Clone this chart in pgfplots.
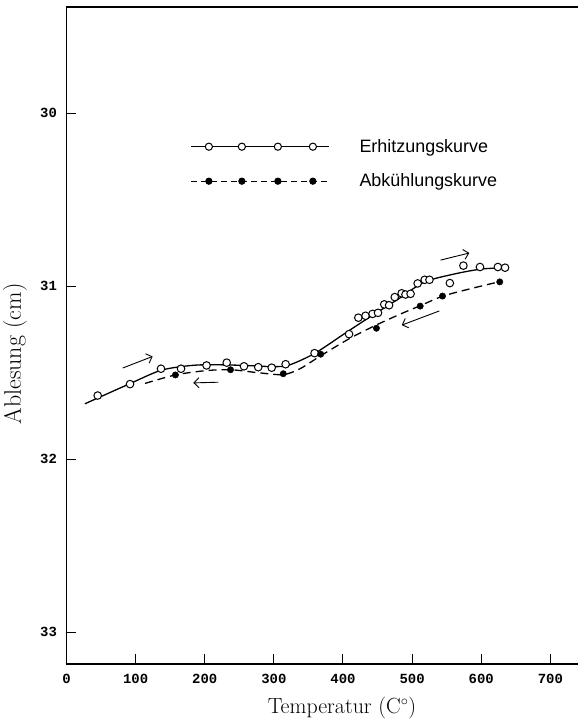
\documentclass[border=0pt]{standalone}
\usepackage{fontspec}
\usepackage{pgfplots}
\usepackage{pgfplotstable}
\pgfplotsset{compat=1.18}
\usetikzlibrary{arrows.meta}
\newfontfamily\tickfont{Liberation Mono}
\newfontfamily\legfont{Liberation Sans}

% Erhitzung: gemessene Punkte
\pgfplotstableread{
x y
45.1 31.633
91.9 31.567
136.7 31.478
165.7 31.478
202.6 31.459
231.8 31.443
256.8 31.464
277.4 31.469
296.9 31.472
317.0 31.452
358.9 31.388
408.8 31.278
422.2 31.183
432.6 31.172
442.8 31.161
450.7 31.155
459.7 31.106
466.7 31.111
474.9 31.064
484.9 31.042
490.4 31.049
497.8 31.045
508.0 30.985
518.2 30.964
525.1 30.964
554.6 30.983
574.2 30.882
598.2 30.890
624.1 30.890
634.5 30.894
}\heatpts

% Erhitzung: gezeichnete Kurve
\pgfplotstableread{
x y
26.5 31.681
91.9 31.564
135.3 31.489
171.5 31.463
201.9 31.455
251.1 31.458
301.7 31.466
323.4 31.455
359.6 31.388
403.0 31.273
436.2 31.186
479.7 31.076
517.3 30.978
559.3 30.932
598.3 30.903
631.6 30.894
}\heatcurve

% Abkuehlung: gemessene Punkte
\pgfplotstableread{
x y
157.6 31.514
237.3 31.484
313.6 31.507
367.8 31.394
448.4 31.244
511.7 31.116
544.0 31.058
626.8 30.976
}\coolpts

% Abkuehlung: gezeichnete Kurve
\pgfplotstableread{
x y
113.6 31.563
157.6 31.514
201.9 31.489
238.0 31.484
277.1 31.501
313.3 31.512
337.9 31.478
367.8 31.403
410.2 31.302
447.8 31.226
482.5 31.163
511.5 31.114
544.1 31.059
583.9 31.016
626.5 30.975
}\coolcurve

\pgfplotsset{
  curve legend/.style={legend image code/.code={
    \draw[##1,mark=none] (0bp,0bp) -- (138bp,0bp);
    \draw[##1,only marks] plot coordinates {(18bp,0bp) (51bp,0bp) (87bp,0bp) (122bp,0bp)};
  }},
}

\begin{document}
\begin{tikzpicture}
\begin{axis}[
  at={(0,0)}, anchor=south west,
  scale only axis,
  width=511.5bp, height=657bp,
  xmin=0, xmax=740,
  ymin=29.387, ymax=33.185,
  y dir=reverse,
  axis x line=box, axis y line=left,
  axis line style={-, line width=1.4bp},
  xtick={0,100,...,700},
  ytick={30,31,32,33},
  xtick pos=bottom,
  tick align=inside,
  major tick length=10bp,
  tick style={black, line width=1bp},
  /pgf/number format/assume math mode=true,
  tick label style={font=\fontsize{14}{14}\selectfont\tickfont\bfseries},
  xticklabel style={yshift=-7bp},
  yticklabel style={xshift=-6bp},
  xlabel={Temperatur (C$^\circ$)},
  ylabel={Ablesung (cm)},
  xlabel style={font=\fontsize{22}{22}\selectfont, at={(rel axis cs:0.5386,0)}, anchor=center, yshift=-44bp},
  ylabel style={font=\fontsize{24}{24}\selectfont, at={(rel axis cs:0,0.472)}, anchor=center, yshift=51.5bp},
  legend style={draw=none, fill=none, at={(axis cs:178.7,30.14)}, anchor=north west,
    inner sep=0pt, row sep=16bp, font=\fontsize{18}{18}\selectfont\legfont,
    /tikz/every odd column/.append style={column sep=28bp}},
  legend cell align=left,
]
\addplot[black, line width=1.3bp, smooth, forget plot] table {\heatcurve};
\addplot[black, line width=1.3bp, smooth, dash pattern=on 8bp off 5bp, forget plot] table {\coolcurve};
\addplot[only marks, mark=*, mark size=3.8bp, mark options={fill=white, draw=black, line width=1bp}, forget plot] table {\heatpts};
\addplot[only marks, mark=*, mark size=3.2bp, mark options={fill=black, draw=black}, forget plot] table {\coolpts};

\addlegendimage{black, line width=1.3bp, mark=*, mark size=3.6bp, mark options={solid, fill=white, line width=1bp}, curve legend}
\addlegendentry{Erhitzungskurve}
\addlegendimage{black, line width=1.2bp, dash pattern=on 6bp off 4bp, mark=*, mark size=3bp, mark options={solid, fill=black}, curve legend}
\addlegendentry{Abkühlungskurve}

\draw[line width=0.9bp, -{Straight Barb[length=5bp]}] (axis cs:81.3,31.474) -- (axis cs:124.6,31.407);
\draw[line width=0.9bp, -{Straight Barb[length=5bp]}] (axis cs:219.7,31.556) -- (axis cs:183.5,31.56);
\draw[line width=0.9bp, -{Straight Barb[length=5bp]}] (axis cs:539.4,31.144) -- (axis cs:485,31.226);
\draw[line width=0.9bp, -{Straight Barb[length=5bp]}] (axis cs:541.2,30.85) -- (axis cs:582.8,30.809);
\end{axis}
\pgfresetboundingbox
\useasboundingbox (-66.5bp,-57bp) rectangle (511.5bp,664bp);
\end{tikzpicture}
\end{document}
